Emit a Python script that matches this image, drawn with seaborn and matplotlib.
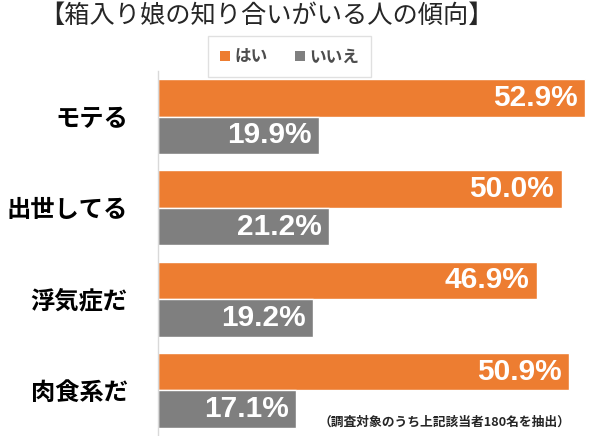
import pandas as pd
import seaborn as sns
import matplotlib.pyplot as plt
from matplotlib.patches import Patch

# data
categories = ['モテる', '出世してる', '浮気症だ', '肉食系だ']
answers = ['はい', 'いいえ']
yes_values = [52.9, 50.0, 46.9, 50.9]
no_values = [19.9, 21.2, 19.2, 17.1]
colors = ['#ED7D31', '#7F7F7F']

df = pd.DataFrame({
    'item': categories * 2,
    'answer': [answers[0]] * len(categories) + [answers[1]] * len(categories),
    'pct': yes_values + no_values,
})

sns.set_style('white')
plt.rcParams['font.family'] = ['Noto Sans CJK JP', 'DejaVu Sans']

fig = plt.figure(figsize=(6, 4.36), dpi=100)
ax = fig.add_axes([0.2638, 0.0, 0.7260, 0.8372])

g = sns.barplot(data=df, y='item', x='pct', hue='answer', order=categories,
                hue_order=answers, palette=colors, orient='h', width=0.82,
                saturation=1, legend=False, ax=ax)
g.set_xlim(0, 54)
g.set_xlabel('')
g.set_ylabel('')
g.set_xticks([])

for side in ['top', 'right', 'bottom']:
    g.spines[side].set_visible(False)
g.spines['left'].set_color('#D9D9D9')
g.spines['left'].set_linewidth(1)

g.tick_params(axis='y', length=0, pad=22)
for lbl in g.get_yticklabels():
    lbl.set_fontsize(17.5)
    lbl.set_fontweight('bold')
    lbl.set_color('black')

# value labels inside the bar ends
for p in g.patches:
    w = p.get_width()
    if w <= 0:
        continue
    g.text(w - 0.95, p.get_y() + p.get_height() / 2, f'{w:.1f}%',
           ha='right', va='center', color='white', fontsize=21.5,
           fontweight='bold', family='Liberation Sans')

handles = [Patch(facecolor=c, edgecolor='none') for c in colors]
leg = fig.legend(handles, answers, loc='center', bbox_to_anchor=(0.4825, 0.870),
                 ncol=2, frameon=True, fancybox=False, edgecolor='#D9D9D9',
                 handlelength=0.6, handleheight=0.6, handletextpad=0.3,
                 columnspacing=1.6, borderpad=0.7,
                 prop={'size': 12, 'weight': 'bold'})
for t in leg.get_texts():
    t.set_color('#4D4D4D')

fig.text(0.065, 0.963, '【箱入り娘の知り合いがいる人の傾向】', ha='left', va='center',
         fontsize=18.2)
fig.text(0.95, 0.032, '（調査対象のうち上記該当者180名を抽出）', ha='right',
         va='center', fontsize=9.2, fontweight='bold')

plt.savefig('out.png', dpi=100)
